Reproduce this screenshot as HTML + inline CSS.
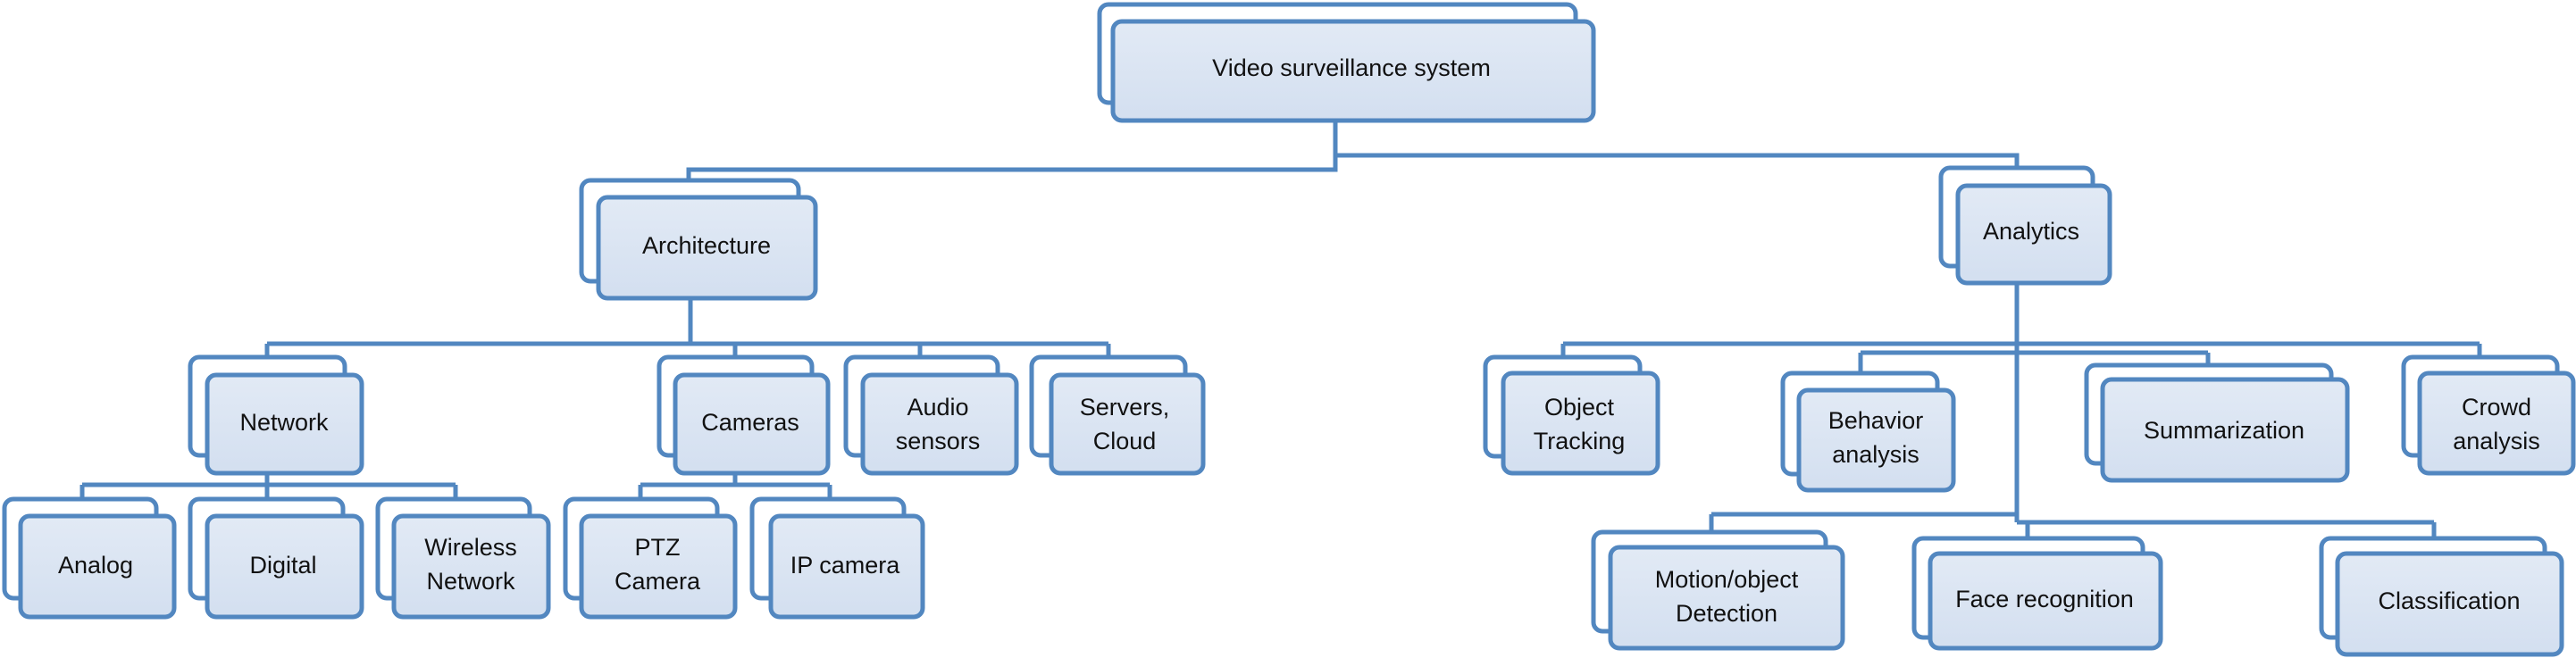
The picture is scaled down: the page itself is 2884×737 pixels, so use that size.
<!DOCTYPE html>
<html><head><meta charset="utf-8"><style>
html,body{margin:0;padding:0;background:#fff;}
svg{display:block}
text{font-family:"Liberation Sans",sans-serif;font-size:27px;fill:#111;text-anchor:middle;}
</style></head><body>
<svg width="2884" height="737" viewBox="0 0 2884 737" xmlns="http://www.w3.org/2000/svg">
<defs>
<linearGradient id="g" x1="0" y1="0" x2="0" y2="1">
<stop offset="0" stop-color="#e2eaf5"/><stop offset="1" stop-color="#d3dff0"/>
</linearGradient>
</defs>
<g fill="none" stroke="#5287c0" stroke-width="5">
<path d="M1495 135 V190 H771 V202 M1495 174 H2258 V188"/>
<path d="M773 334 V385 M299 385 H1241 M299 385 V400 M823 385 V400 M1030 385 V400 M1241 385 V400"/>
<path d="M299 530 V543 M92 543 H510 M92 543 V559 M299 543 V559 M510 543 V559"/>
<path d="M823 530 V543 M717 543 H929 M717 543 V559 M929 543 V559"/>
<path d="M2258 317 V585 M1750 385 H2776 M1750 385 V400 M2776 385 V400 M2083 395 H2472 M2083 395 V418 M2472 395 V409"/>
<path d="M1916 576 H2258 M1916 576 V596 M2258 585 H2725 M2270 585 V603 M2725 585 V603"/>
</g>
<g stroke="#5287c0" stroke-width="5">
<!-- boxes: back then front -->
<rect x="1231" y="5" width="533" height="110" rx="10" fill="#fff"/><rect x="1246" y="24" width="538" height="111" rx="10" fill="url(#g)"/>
<rect x="651" y="202" width="243" height="113" rx="10" fill="#fff"/><rect x="670" y="221" width="243" height="113" rx="10" fill="url(#g)"/>
<rect x="2173" y="188" width="170" height="110" rx="10" fill="#fff"/><rect x="2192" y="208" width="170" height="109" rx="10" fill="url(#g)"/>
<rect x="213" y="400" width="173" height="110" rx="10" fill="#fff"/><rect x="232" y="420" width="173" height="110" rx="10" fill="url(#g)"/>
<rect x="738" y="400" width="171" height="110" rx="10" fill="#fff"/><rect x="756" y="420" width="171" height="110" rx="10" fill="url(#g)"/>
<rect x="947" y="400" width="170" height="110" rx="10" fill="#fff"/><rect x="966" y="420" width="172" height="110" rx="10" fill="url(#g)"/>
<rect x="1155" y="400" width="172" height="110" rx="10" fill="#fff"/><rect x="1177" y="420" width="170" height="110" rx="10" fill="url(#g)"/>
<rect x="5" y="559" width="170" height="111" rx="10" fill="#fff"/><rect x="23" y="578" width="172" height="113" rx="10" fill="url(#g)"/>
<rect x="213" y="559" width="171" height="111" rx="10" fill="#fff"/><rect x="232" y="578" width="173" height="113" rx="10" fill="url(#g)"/>
<rect x="423" y="559" width="170" height="111" rx="10" fill="#fff"/><rect x="441" y="578" width="173" height="113" rx="10" fill="url(#g)"/>
<rect x="633" y="559" width="170" height="111" rx="10" fill="#fff"/><rect x="651" y="578" width="172" height="113" rx="10" fill="url(#g)"/>
<rect x="842" y="559" width="170" height="111" rx="10" fill="#fff"/><rect x="863" y="578" width="170" height="113" rx="10" fill="url(#g)"/>
<rect x="1663" y="400" width="173" height="111" rx="10" fill="#fff"/><rect x="1683" y="418" width="173" height="112" rx="10" fill="url(#g)"/>
<rect x="1996" y="418" width="173" height="113" rx="10" fill="#fff"/><rect x="2014" y="437" width="173" height="112" rx="10" fill="url(#g)"/>
<rect x="2336" y="409" width="274" height="110" rx="10" fill="#fff"/><rect x="2354" y="425" width="274" height="113" rx="10" fill="url(#g)"/>
<rect x="2691" y="400" width="172" height="110" rx="10" fill="#fff"/><rect x="2709" y="418" width="172" height="112" rx="10" fill="url(#g)"/>
<rect x="1784" y="596" width="260" height="111" rx="10" fill="#fff"/><rect x="1803" y="613" width="260" height="113" rx="10" fill="url(#g)"/>
<rect x="2143" y="603" width="256" height="111" rx="10" fill="#fff"/><rect x="2161" y="620" width="258" height="106" rx="10" fill="url(#g)"/>
<rect x="2599" y="603" width="250" height="111" rx="10" fill="#fff"/><rect x="2617" y="620" width="251" height="113" rx="10" fill="url(#g)"/>
</g>
<text x="1513" y="85">Video surveillance system</text>
<text x="791" y="284">Architecture</text>
<text x="2274" y="268">Analytics</text>
<text x="318" y="482">Network</text>
<text x="840" y="482">Cameras</text>
<text x="1050" y="465">Audio</text><text x="1050" y="503">sensors</text>
<text x="1259" y="465">Servers,</text><text x="1259" y="503">Cloud</text>
<text x="107" y="642">Analog</text>
<text x="317" y="642">Digital</text>
<text x="527" y="622">Wireless</text><text x="527" y="660">Network</text>
<text x="736" y="622">PTZ</text><text x="736" y="660">Camera</text>
<text x="946" y="642">IP camera</text>
<text x="1768" y="465">Object</text><text x="1768" y="503">Tracking</text>
<text x="2100" y="480">Behavior</text><text x="2100" y="518">analysis</text>
<text x="2490" y="491">Summarization</text>
<text x="2795" y="465">Crowd</text><text x="2795" y="503">analysis</text>
<text x="1933" y="658">Motion/object</text><text x="1933" y="696">Detection</text>
<text x="2289" y="680">Face recognition</text>
<text x="2742" y="682">Classification</text>
</svg>
</body></html>
